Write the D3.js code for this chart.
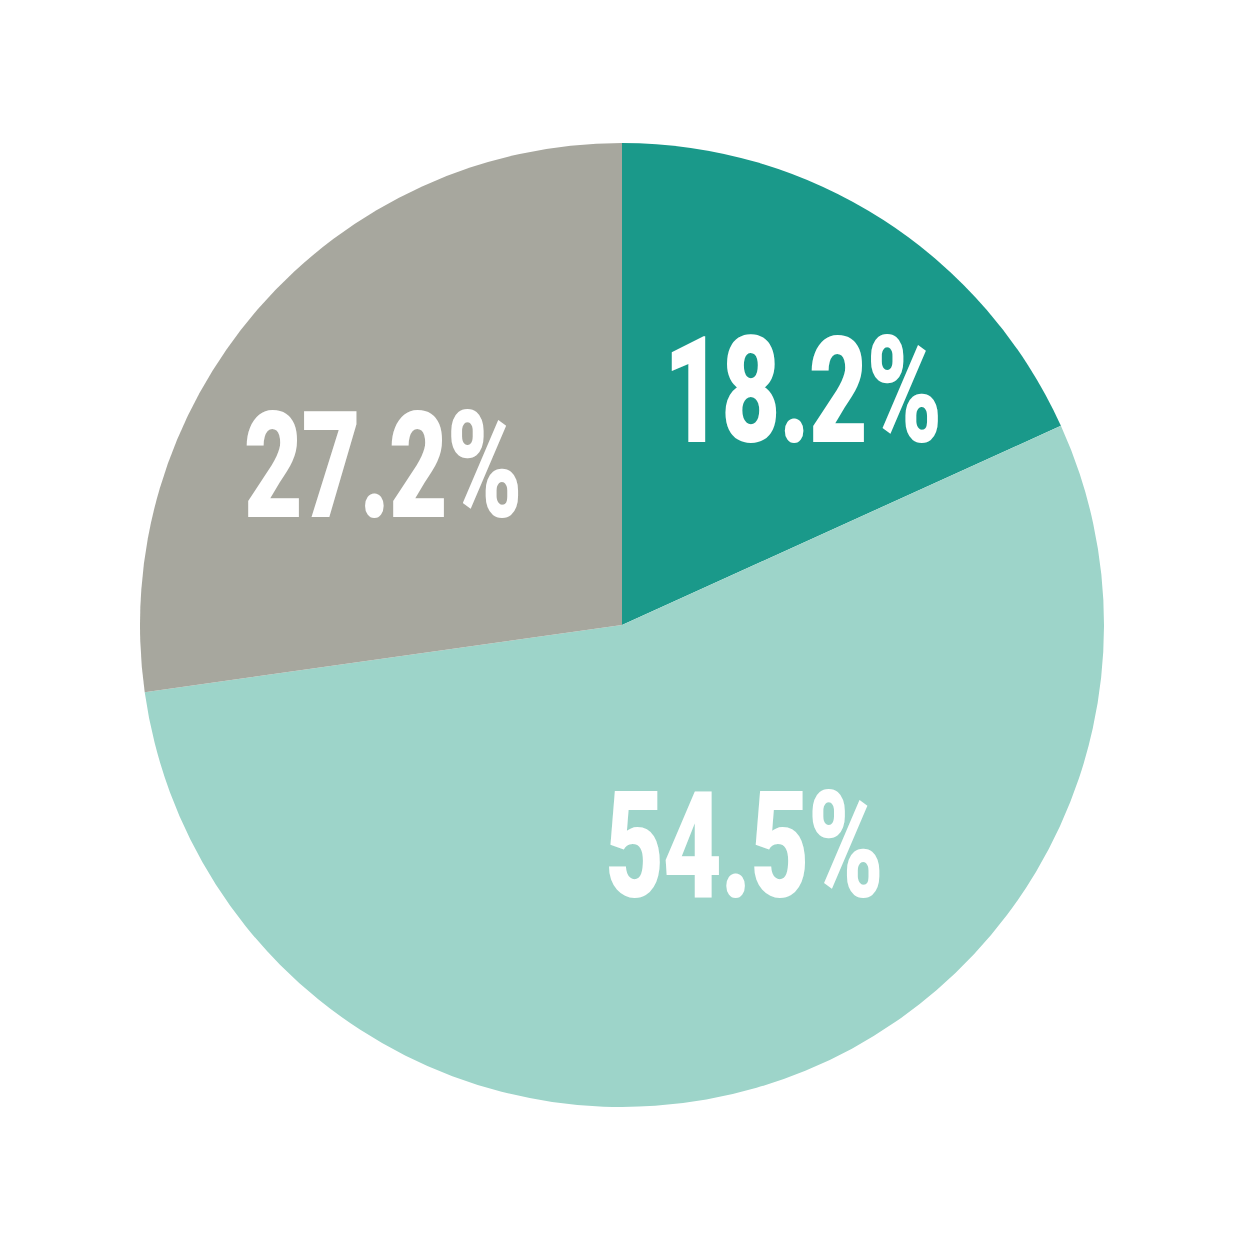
<!DOCTYPE html>
<html>
<head>
<meta charset="utf-8">
<script src="https://cdn.jsdelivr.net/npm/d3@7"></script>
<style>
  html, body { margin: 0; padding: 0; background: #fff; }
</style>
</head>
<body>
<div id="chart"></div>
<script>
// slices, clockwise from 12 o'clock
const labels = ['18.2%', '54.5%', '27.2%'];
const values = [18.2, 54.5, 27.2];
const colors = ['#1a998a', '#9dd4c9', '#a7a79e'];

const W = 1250, H = 1250;
const cx = 622, cy = 625, R = 482;

// label anchor offsets from centre (polar: angle deg clockwise from top, distance px)
const labelPolar = [[37.5, 296], [151, 251], [303.7, 288]];

const svg = d3.select('#chart').append('svg')
  .attr('width', W).attr('height', H);

const g = svg.append('g').attr('transform', `translate(${cx},${cy})`);

const pie = d3.pie().sort(null).value(d => d);
const arc = d3.arc().innerRadius(0).outerRadius(R);
const arcs = pie(values);

g.selectAll('path.slice').data(arcs).enter().append('path')
  .attr('class', 'slice')
  .attr('d', arc)
  .attr('fill', (d, i) => colors[i]);

g.selectAll('text.lbl').data(arcs).enter().append('text')
  .attr('class', 'lbl')
  .attr('transform', (d, i) => {
    const [a, r] = labelPolar[i];
    const t = a * Math.PI / 180;
    const x = Math.sin(t) * r, y = -Math.cos(t) * r;
    return `translate(${x},${y + 52}) scale(0.69,1)`;
  })
  .attr('text-anchor', 'middle')
  .attr('font-family', 'Roboto, "Liberation Sans", sans-serif')
  .attr('font-weight', 900)
  .attr('font-size', 148)
  .attr('letter-spacing', -2)
  .attr('fill', '#fff')
  .text((d, i) => labels[i]);
</script>
</body>
</html>
